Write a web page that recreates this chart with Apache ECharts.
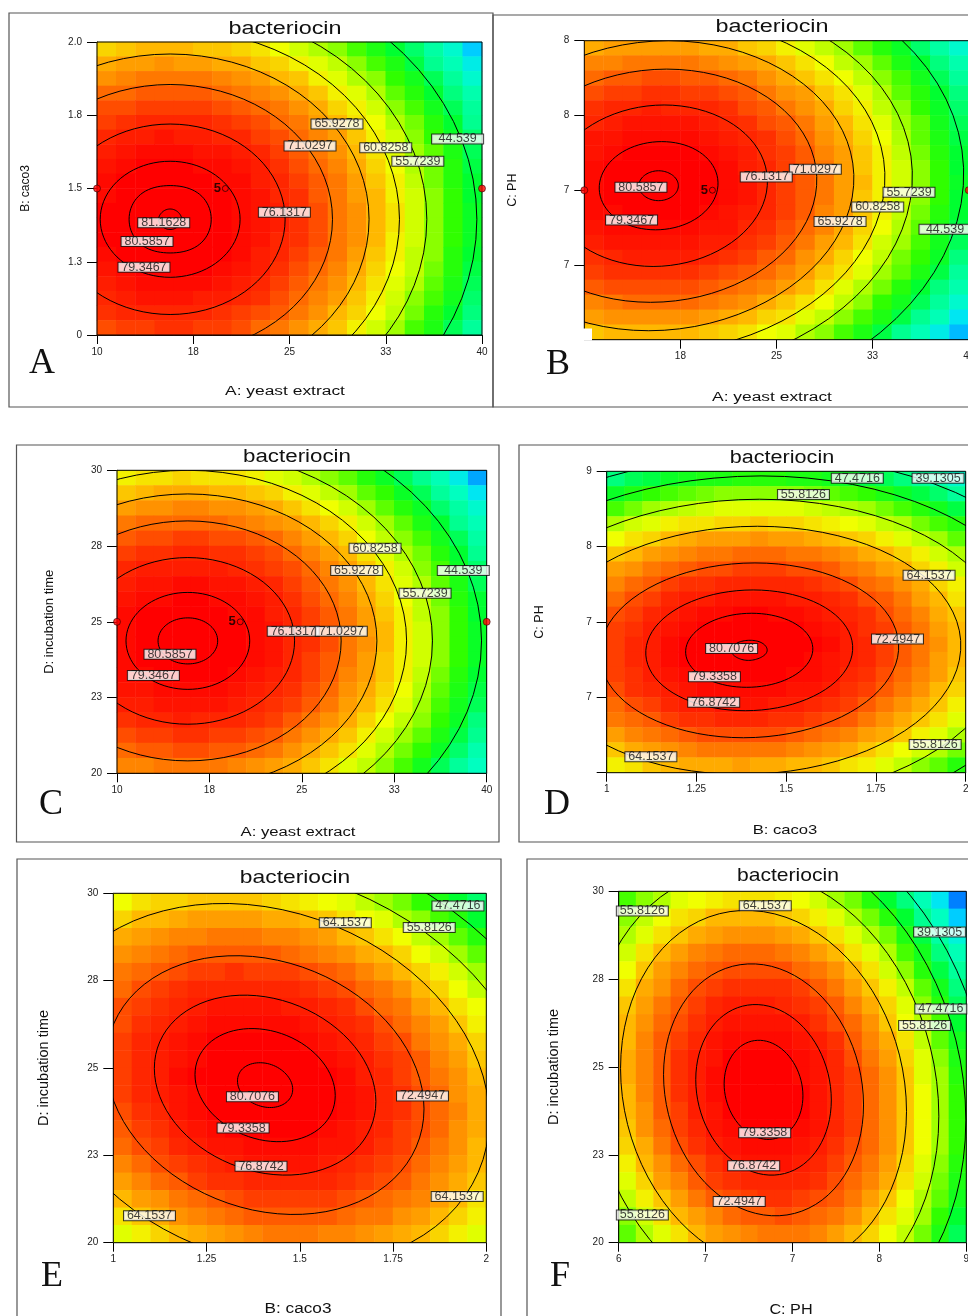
<!DOCTYPE html>
<html><head><meta charset="utf-8">
<script src="https://cdn.jsdelivr.net/npm/echarts@6/dist/echarts.min.js"></script>
<style>html,body{margin:0;padding:0;background:#fff}#c{width:968px;height:1316px}</style></head>
<body><div id="c"></div>
<script>
// value scale colours, 25..80 in steps of 5
const colourStops=['#0080ff','#00e0ff','#00ffc0','#00ff90','#00ff30','#30ff00','#a0ff00','#f0ff00','#ffb800','#ff7800','#ff3000','#ff0000'];

// ---- Panel A: yeast extract / caco3
const heatA=[
[63,64,65,65,65,64,64,63,62,60,58,56,54,51,48,45,42,38,34,29],
[66,67,67,68,67,67,66,66,64,63,61,59,57,54,51,48,44,40,36,32],
[68,69,70,70,70,70,69,68,67,65,64,61,59,56,54,50,47,43,39,34],
[71,71,72,72,72,72,71,70,69,68,66,64,61,59,56,52,49,45,41,37],
[73,73,74,74,74,74,73,72,71,70,68,66,63,61,58,54,51,47,43,39],
[74,75,76,76,76,76,75,74,73,71,70,67,65,62,60,56,53,49,45,40],
[76,77,77,78,77,77,76,76,74,73,71,69,67,64,61,58,54,50,46,42],
[77,78,79,79,79,78,78,77,76,74,72,70,68,65,62,59,55,52,48,43],
[78,79,80,80,80,79,79,78,77,75,73,71,69,66,63,60,56,53,49,44],
[79,80,80,81,80,80,79,79,77,76,74,72,70,67,64,61,57,53,49,45],
[79,80,81,81,81,81,80,79,78,76,75,72,70,67,65,61,58,54,50,45],
[80,81,81,81,81,81,80,79,78,77,75,73,70,68,65,62,58,54,50,46],
[80,81,81,81,81,81,80,79,78,77,75,73,70,68,65,62,58,54,50,46],
[80,80,81,81,81,81,80,79,78,76,75,73,70,68,65,61,58,54,50,46],
[79,80,80,81,81,80,80,79,77,76,74,72,70,67,64,61,57,54,49,45],
[78,79,80,80,80,80,79,78,77,75,73,71,69,66,63,60,57,53,49,44],
[77,78,79,79,79,79,78,77,76,74,72,70,68,65,62,59,56,52,48,43],
[76,77,78,78,78,77,77,76,75,73,71,69,67,64,61,58,54,51,47,42],
[75,76,76,76,76,76,75,74,73,72,70,68,65,63,60,57,53,49,45,41],
[73,74,74,75,75,74,74,73,71,70,68,66,64,61,58,55,51,48,43,39]];
const contoursA=[
[[16.6,1.395],[16.3,1.42],[15.7,1.43],[15.1,1.42],[14.8,1.395],[15.1,1.37],[15.7,1.36],[16.3,1.37]],
[[18.9,1.395],[18,1.48],[15.7,1.51],[13.4,1.48],[12.5,1.395],[13.4,1.31],[15.7,1.28],[18,1.31]],
[[21.15,1.395],[19.55,1.535],[15.7,1.593],[11.85,1.535],[10.25,1.395],[11.85,1.255],[15.7,1.197],[19.55,1.255]],
[[24.66,1.395],[22.03,1.625],[15.7,1.72],[9.37,1.625],[6.74,1.395],[9.37,1.165],[15.7,1.07],[22.03,1.165]],
[[28.35,1.395],[24.64,1.72],[15.7,1.855],[6.76,1.72],[3.05,1.395],[6.76,1.07],[15.7,.935],[24.64,1.07]],
[[31.2,1.395],[26.66,1.794],[15.7,1.959],[4.74,1.794],[.2,1.395],[4.74,.996],[15.7,.831],[26.66,.996]],
[[33.57,1.395],[28.33,1.855],[15.7,2.045],[3.07,1.855],[-2.17,1.395],[3.07,.935],[15.7,.745],[28.33,.935]],
[[35.7,1.395],[29.84,1.91],[15.7,2.123],[1.56,1.91],[-4.3,1.395],[1.56,.88],[15.7,.667],[29.84,.88]],
[[39.6,1.395],[32.6,2.011],[15.7,2.266],[-1.2,2.011],[-8.2,1.395],[-1.2,.779],[15.7,.524],[32.6,.779]]];
const labelsA=[["65.9278",28.7,1.72],["71.0297",26.6,1.645],["60.8258",32.5,1.639],["55.7239",35,1.593],["44.539",38.1,1.669],["76.1317",24.6,1.419],["81.1628",15.2,1.383],["80.5857",13.9,1.319],["79.3467",13.66,1.231]];
const pointsA=[[10,1.5],[40,1.5]]; const centreA=[[20,1.5]];

// ---- Panel B: yeast extract / PH
const heatB=[
[66,67,67,67,67,67,66,66,64,63,61,59,57,55,52,49,46,42,38,34],
[69,69,70,70,70,70,69,68,67,66,64,62,60,57,55,52,48,45,41,37],
[71,72,72,73,73,72,72,71,70,68,66,64,62,60,57,54,51,47,43,39],
[73,74,74,75,75,74,74,73,72,70,68,67,64,62,59,56,52,49,45,41],
[75,76,76,77,76,76,76,75,73,72,70,68,66,63,61,57,54,50,46,42],
[76,77,78,78,78,78,77,76,75,73,72,70,67,65,62,59,55,52,47,43],
[78,78,79,79,79,79,78,77,76,75,73,71,68,66,63,60,56,52,48,44],
[78,79,80,80,80,80,79,78,77,75,74,72,69,67,64,61,57,53,49,45],
[79,80,80,81,80,80,80,79,77,76,74,72,70,67,64,61,58,54,50,45],
[79,80,80,81,81,80,80,79,78,76,74,72,70,67,65,61,58,54,50,46],
[79,80,80,81,81,80,80,79,78,76,74,72,70,67,64,61,58,54,50,45],
[79,79,80,80,80,80,79,78,77,76,74,72,69,67,64,61,57,53,49,45],
[78,79,79,79,79,79,78,78,76,75,73,71,69,66,63,60,56,52,48,44],
[77,78,78,78,78,78,77,77,75,74,72,70,67,65,62,58,55,51,47,43],
[75,76,77,77,77,77,76,75,74,72,71,68,66,63,60,57,53,50,46,41],
[74,75,75,75,75,75,74,73,72,71,69,67,64,62,59,55,52,48,44,39],
[72,73,73,73,73,73,72,71,70,69,67,65,62,59,56,53,49,45,41,37],
[69,70,71,71,71,71,70,69,68,66,64,62,60,57,54,50,47,43,39,34],
[67,68,68,68,68,68,67,66,65,63,62,59,57,54,51,48,44,40,36,31],
[64,65,65,65,65,65,64,63,62,60,59,56,54,51,48,44,40,36,32,28]];
const contoursB=[
[[17.34,7.03],[16.89,7.10],[15.8,7.13],[14.71,7.10],[14.26,7.03],[14.71,6.96],[15.8,6.93],[16.89,6.96]],
[[20.43,7.03],[19.24,7.24],[16.04,7.325],[12.7,7.24],[11.17,7.03],[12.36,6.82],[15.56,6.735],[18.9,6.82]],
[[24.28,7.03],[22.11,7.41],[16.23,7.57],[10.11,7.41],[7.32,7.03],[9.49,6.65],[15.37,6.49],[21.49,6.65]],
[[28.13,7.03],[24.96,7.58],[16.43,7.81],[7.52,7.58],[3.47,7.03],[6.64,6.48],[15.17,6.25],[24.08,6.48]],
[[31.02,7.03],[27.11,7.71],[16.57,8.0],[5.59,7.71],[.58,7.03],[4.49,6.35],[15.03,6.06],[26.01,6.35]],
[[33.44,7.03],[28.9,7.82],[16.7,8.15],[3.96,7.82],[-1.84,7.03],[2.7,6.24],[14.9,5.91],[27.64,6.24]],
[[35.58,7.03],[30.49,7.92],[16.8,8.29],[2.53,7.92],[-3.98,7.03],[1.11,6.14],[14.8,5.77],[29.07,6.14]],
[[39.58,7.03],[33.47,8.1],[17.01,8.54],[-.15,8.1],[-7.98,7.03],[-1.87,5.96],[14.59,5.52],[31.75,5.96]]];
const labelsB=[["71.0297",28.03,7.14],["76.1317",24.2,7.088],["80.5857",14.42,7.02],["55.7239",35.34,6.986],["60.8258",32.9,6.888],["65.9278",29.96,6.79],["44.539",38.15,6.738],["79.3467",13.69,6.8]];
const pointsB=[[10,7],[40,7]]; const centreB=[[20,7]];

// ---- Panel C: yeast extract / incubation time
const heatC=[
[61,62,62,63,62,62,62,61,59,58,56,54,52,49,46,43,40,36,32,27],
[64,65,66,66,66,65,65,64,63,61,59,57,55,52,50,46,43,39,35,31],
[67,68,68,69,69,68,68,67,66,64,62,60,58,55,52,49,46,42,38,34],
[70,71,71,71,71,71,70,69,68,67,65,63,61,58,55,52,48,45,40,36],
[72,73,73,74,74,73,73,72,71,69,67,65,63,60,57,54,51,47,43,38],
[74,75,75,76,76,75,75,74,73,71,69,67,65,62,59,56,53,49,45,40],
[76,77,77,77,77,77,76,75,74,73,71,69,67,64,61,58,54,51,46,42],
[77,78,78,79,79,78,78,77,76,74,72,70,68,65,62,59,56,52,48,43],
[78,79,79,80,80,79,79,78,77,75,73,71,69,66,63,60,57,53,49,45],
[79,80,80,80,80,80,79,79,77,76,74,72,70,67,64,61,57,54,50,45],
[79,80,81,81,81,80,80,79,78,76,74,72,70,67,65,61,58,54,50,46],
[79,80,81,81,81,81,80,79,78,76,75,73,70,68,65,61,58,54,50,46],
[79,80,80,81,81,80,80,79,78,76,74,72,70,67,64,61,58,54,50,46],
[79,79,80,80,80,80,79,78,77,76,74,72,69,67,64,61,57,53,49,45],
[78,78,79,79,79,79,78,77,76,75,73,71,68,66,63,60,56,52,48,44],
[77,77,78,78,78,78,77,76,75,74,72,70,67,65,62,59,55,51,47,43],
[75,76,76,77,76,76,76,75,74,72,70,68,66,63,60,57,54,50,46,41],
[73,74,74,75,75,74,74,73,72,70,68,66,64,61,58,55,52,48,44,40],
[71,72,72,73,73,72,72,71,70,68,66,64,62,59,56,53,50,46,42,37],
[69,69,70,70,70,70,69,68,67,66,64,62,59,57,54,51,47,43,39,35]];
const contoursC=[
[[18.17,24.37],[17.46,24.91],[15.75,25.13],[14.04,24.91],[13.33,24.37],[14.04,23.83],[15.75,23.61],[17.46,23.83]],
[[20.77,24.37],[19.3,25.5],[15.75,25.97],[12.2,25.5],[10.73,24.37],[12.2,23.24],[15.75,22.77],[19.3,23.24]],
[[24.41,24.37],[21.87,26.31],[15.75,27.12],[9.63,26.31],[7.09,24.37],[9.63,22.43],[15.75,21.62],[21.87,22.43]],
[[28.19,24.37],[24.55,27.17],[15.75,28.33],[6.95,27.17],[3.31,24.37],[6.95,21.57],[15.75,20.41],[24.55,21.57]],
[[31.09,24.37],[26.6,27.8],[15.75,29.22],[4.9,27.8],[.41,24.37],[4.9,20.94],[15.75,19.52],[26.6,20.94]],
[[33.5,24.37],[28.3,28.35],[15.75,30],[3.2,28.35],[-2,24.37],[3.2,20.39],[15.75,18.74],[28.3,20.39]],
[[35.6,24.37],[29.78,28.82],[15.75,30.66],[1.72,28.82],[-4.1,24.37],[1.72,19.92],[15.75,18.08],[29.78,19.92]],
[[39.58,24.37],[32.6,29.72],[15.75,31.94],[-1.1,29.72],[-8.08,24.37],[-1.1,19.02],[15.75,16.8],[32.6,19.02]]];
const labelsC=[["60.8258",30.94,27.43],["65.9278",29.45,26.69],["44.539",38.1,26.69],["55.7239",35,25.94],["76.1317",24.3,24.69],["71.0297",28.2,24.69],["80.5857",14.3,23.93],["79.3467",12.95,23.23]];
const pointsC=[[10,25],[40,25]]; const centreC=[[20,25]];

// ---- Panel D: caco3 / PH
const heatD=[
[41,43,44,46,47,48,48,49,49,49,48,48,47,46,44,43,41,39,37,34],
[46,48,50,51,52,53,54,54,54,54,54,53,52,51,50,48,46,44,42,39],
[51,53,55,56,57,58,59,59,59,59,59,58,57,56,55,53,51,49,47,44],
[56,58,59,61,62,62,63,63,64,63,63,62,61,60,59,57,56,53,51,49],
[60,62,63,65,66,67,67,67,68,67,67,66,65,64,63,61,59,57,55,52],
[64,65,67,68,69,70,70,71,71,71,70,70,69,68,66,65,63,61,58,56],
[67,68,70,71,72,73,73,74,74,74,73,73,72,70,69,67,66,63,61,58],
[69,71,72,74,75,75,76,76,76,76,76,75,74,73,71,70,68,66,63,61],
[71,73,74,76,77,77,78,78,78,78,77,77,76,75,73,72,70,67,65,62],
[73,74,76,77,78,79,79,80,80,79,79,78,77,76,75,73,71,69,66,64],
[74,75,77,78,79,80,80,81,81,80,80,79,78,77,75,74,72,70,67,65],
[74,76,77,79,80,80,81,81,81,81,80,80,79,77,76,74,72,70,68,65],
[74,76,77,79,80,80,81,81,81,81,80,79,78,77,76,74,72,70,67,65],
[74,75,77,78,79,80,80,80,80,80,79,79,78,76,75,73,71,69,67,64],
[73,75,76,77,78,79,79,79,79,79,78,78,77,75,74,72,70,68,65,63],
[71,73,74,76,77,77,78,78,78,77,77,76,75,74,72,70,68,66,64,61],
[70,71,72,74,75,75,76,76,76,75,75,74,73,72,70,68,66,64,62,59],
[67,69,70,71,72,73,73,73,73,73,72,71,70,69,67,66,64,61,59,56],
[64,66,67,68,69,70,70,70,70,70,69,68,67,66,64,62,60,58,56,53],
[61,62,64,65,66,66,66,67,66,66,65,65,64,62,61,59,57,54,52,49]];
const contoursD=[
[[1.447,7.218],[1.433,7.29],[1.399,7.318],[1.363,7.29],[1.347,7.218],[1.361,7.15],[1.395,7.118],[1.431,7.15]],
[[1.574,7.218],[1.527,7.479],[1.404,7.587],[1.277,7.479],[1.22,7.218],[1.267,6.957],[1.39,6.85],[1.517,6.957]],
[[1.685,7.218],[1.609,7.643],[1.408,7.819],[1.201,7.643],[1.109,7.218],[1.185,6.793],[1.386,6.617],[1.593,6.793]],
[[1.813,7.218],[1.703,7.833],[1.413,8.088],[1.115,7.833],[.981,7.218],[1.091,6.603],[1.381,6.348],[1.679,6.603]],
[[1.986,7.218],[1.83,8.091],[1.42,8.453],[.997,8.091],[.808,7.218],[.964,6.345],[1.374,5.983],[1.797,6.345]],
[[2.117,7.218],[1.926,8.281],[1.425,8.722],[.908,8.281],[.677,7.218],[.868,6.155],[1.369,5.714],[1.886,6.155]],
[[2.227,7.218],[2.007,8.446],[1.43,8.954],[.833,8.446],[.567,7.218],[.787,5.99],[1.364,5.482],[1.961,5.99]],
[[2.325,7.218],[2.079,8.591],[1.433,9.16],[.766,8.591],[.469,7.218],[.715,5.845],[1.361,5.276],[2.027,5.845]]];
const labelsD=[["47.4716",1.698,8.93],["39.1305",1.923,8.93],["55.8126",1.548,8.77],["64.1537",1.898,7.965],["72.4947",1.81,7.33],["80.7076",1.348,7.235],["79.3358",1.3,6.956],["76.8742",1.298,6.7],["55.8126",1.915,6.28],["64.1537",1.123,6.16]];

// ---- Panel E: caco3 / incubation time
const heatE=[
[60,62,63,63,64,64,64,64,63,62,61,60,59,57,55,53,50,48,45,42],
[63,65,65,66,67,67,67,67,66,66,65,64,62,60,59,56,54,51,49,45],
[66,67,68,69,69,70,70,70,69,69,68,67,65,64,62,60,57,55,52,49],
[68,69,70,71,72,72,72,72,72,71,70,69,68,66,65,63,60,58,55,52],
[70,71,72,73,74,74,75,74,74,74,73,72,71,69,67,65,63,61,58,55],
[71,73,74,75,76,76,76,76,76,76,75,74,73,71,70,68,65,63,60,57],
[73,74,75,76,77,78,78,78,78,77,77,76,75,73,71,70,67,65,62,60],
[73,75,76,77,78,79,79,79,79,79,78,77,76,75,73,71,69,67,64,61],
[74,76,77,78,79,80,80,80,80,80,79,78,77,76,74,73,70,68,66,63],
[74,76,77,78,79,80,81,81,81,80,80,79,78,77,75,74,72,69,67,64],
[74,76,77,79,80,80,81,81,81,81,80,80,79,77,76,74,72,70,68,65],
[74,76,77,78,79,80,81,81,81,81,80,80,79,78,76,75,73,71,68,66],
[73,75,76,78,79,80,80,81,81,81,80,80,79,78,76,75,73,71,69,66],
[72,74,75,77,78,79,80,80,80,80,80,79,78,77,76,74,73,71,68,66],
[71,73,74,76,77,78,78,79,79,79,79,78,78,77,75,74,72,70,68,65],
[69,71,73,74,75,76,77,78,78,78,78,77,76,75,74,73,71,69,67,65],
[67,69,71,72,74,75,75,76,76,76,76,76,75,74,73,72,70,68,66,64],
[65,67,68,70,71,72,73,74,74,74,74,74,73,72,71,70,69,67,65,62],
[62,64,66,68,69,70,71,72,72,72,72,72,71,70,70,68,67,65,63,61],
[59,61,63,65,66,67,68,69,70,70,70,69,69,68,67,66,65,63,61,59]];
const contoursE=[
[[1.481,24.39],[1.459,24.87],[1.407,25.14],[1.354,25.04],[1.333,24.63],[1.354,24.15],[1.407,23.88],[1.459,23.98]],
[[1.595,24.21],[1.54,25.42],[1.407,26.1],[1.274,25.85],[1.219,24.81],[1.274,23.6],[1.407,22.92],[1.54,23.17]],
[[1.704,24.04],[1.617,25.96],[1.407,27.04],[1.197,26.64],[1.11,24.99],[1.197,23.06],[1.407,21.98],[1.617,22.38]],
[[1.833,23.83],[1.708,26.6],[1.407,28.15],[1.106,27.57],[.981,25.19],[1.106,22.42],[1.407,20.87],[1.708,21.46]],
[[2.008,23.55],[1.832,27.44],[1.407,29.62],[.982,28.8],[.807,25.47],[.982,21.58],[1.407,19.4],[1.832,20.22]],
[[2.142,23.34],[1.926,28.09],[1.407,30.75],[.888,29.75],[.673,25.69],[.888,20.93],[1.407,18.27],[1.926,19.27]],
[[2.254,23.15],[2.006,28.64],[1.407,31.71],[.808,30.56],[.56,25.87],[.808,20.38],[1.407,17.31],[2.006,18.46]]];
const labelsE=[["47.4716",1.924,29.64],["64.1537",1.622,29.16],["55.8126",1.847,29.02],["72.4947",1.829,24.2],["80.7076",1.373,24.18],["79.3358",1.348,23.28],["76.8742",1.396,22.19],["64.1537",1.922,21.32],["64.1537",1.097,20.77]];

// ---- Panel F: PH / incubation time
const heatF=[
[51,54,56,59,60,61,62,62,62,61,60,58,55,53,49,45,41,36,31,25],
[54,57,60,62,63,65,65,65,65,64,63,61,59,56,53,49,45,40,35,29],
[56,59,62,64,66,67,68,68,68,67,66,64,62,59,56,53,48,44,38,33],
[58,62,65,67,69,70,71,71,71,70,69,67,65,62,59,56,51,47,41,36],
[60,64,67,69,71,72,73,73,73,73,71,70,68,65,62,58,54,49,44,39],
[62,66,68,71,73,74,75,75,75,75,74,72,70,67,64,61,57,52,47,41],
[64,67,70,72,74,76,77,77,77,76,75,74,72,69,66,63,59,54,49,43],
[65,68,71,73,75,77,78,78,78,78,77,75,73,71,68,64,60,56,51,45],
[65,69,72,74,76,78,79,79,79,79,78,77,75,72,69,66,62,57,52,47],
[66,69,72,75,77,78,80,80,80,80,79,78,76,73,70,67,63,59,54,48],
[66,69,72,75,77,79,80,80,81,80,79,78,76,74,71,68,64,59,55,49],
[65,69,72,75,77,79,80,80,81,80,80,78,76,74,71,68,64,60,55,50],
[65,68,72,74,77,78,80,80,81,80,80,78,76,74,71,68,64,60,55,50],
[64,68,71,74,76,78,79,80,80,80,79,78,76,74,71,68,64,60,55,50],
[63,66,70,73,75,77,78,79,79,79,78,77,75,73,71,68,64,60,55,50],
[61,65,68,71,73,75,77,78,78,78,77,76,74,72,70,67,63,59,54,49],
[59,63,67,69,72,74,75,76,76,76,76,75,73,71,69,66,62,58,53,48],
[57,61,64,67,70,72,73,74,75,75,74,73,72,70,67,64,60,56,52,47],
[54,58,62,65,67,69,71,72,72,73,72,71,70,68,65,62,59,55,50,45],
[52,56,59,62,65,67,68,69,70,70,70,69,67,65,63,60,57,53,48,43]];
const contoursF=[
[[7.59,24.18],[7.49,25.22],[7.25,25.75],[7.01,25.46],[6.91,24.52],[7.01,23.48],[7.25,22.95],[7.49,23.24]],
[[7.835,24.06],[7.664,25.85],[7.25,26.76],[6.836,26.26],[6.665,24.64],[6.836,22.85],[7.25,21.94],[7.664,22.44]],
[[8.113,23.92],[7.86,26.57],[7.25,27.91],[6.64,27.17],[6.387,24.78],[6.64,22.13],[7.25,20.79],[7.86,21.53]],
[[8.484,23.74],[8.122,27.5],[7.25,29.42],[6.378,28.37],[6.016,24.96],[6.378,21.2],[7.25,19.28],[8.122,20.33]],
[[8.763,23.6],[8.32,28.23],[7.25,30.59],[6.18,29.29],[5.737,25.1],[6.18,20.47],[7.25,18.11],[8.32,19.41]],
[[8.996,23.49],[8.484,28.84],[7.25,31.56],[6.016,30.06],[5.504,25.21],[6.016,19.86],[7.25,17.14],[8.484,18.64]],
[[9.206,23.38],[8.633,29.38],[7.25,32.43],[5.867,30.74],[5.294,25.32],[5.867,19.32],[7.25,16.27],[8.633,17.96]]];
const labelsF=[["64.1537",7.265,29.59],["55.8126",6.204,29.44],["39.1305",8.77,28.84],["47.4716",8.78,26.65],["55.8126",8.64,26.18],["79.3358",7.26,23.13],["76.8742",7.165,22.19],["72.4947",7.04,21.17],["55.8126",6.204,20.79]];

// ---- axes: tick positions and the labels printed there
const yeastTicks=[10,17.5,25,32.5,40], yeastLabels=["10","18","25","33","40"];
const caco3Ticks=[1,1.25,1.5,1.75,2], caco3Labels=["1","1.25","1.5","1.75","2"];
const timeTicks=[20,22.5,25,27.5,30], timeLabels=["20","23","25","28","30"];
const phTicks=[6,6.75,7.5,8.25,9], phLabels=["6","7","7","8","9"];
const caco3TicksA=[1,1.25,1.5,1.75,2], caco3LabelsA=["0","1.3","1.5","1.8","2.0"];
const yeastTicksB=[17.5,25,32.5,40], yeastLabelsB=["18","25","33","40"];
const phTicksB=[6.5,7,7.5,8], phLabelsB=["7","7","8","8"];
const phTicksD=[6,6.75,7.5,8.25,9], phLabelsD=["","7","7","8","9"];

const panels=[
 {heat:heatA,cont:contoursA,lab:labelsA,pts:pointsA,ctr:centreA,letter:'A',
  x:{min:10,max:40,t:yeastTicks,l:yeastLabels,name:'A: yeast extract'},y:{min:1,max:2,t:caco3TicksA,l:caco3LabelsA,name:'B: caco3'},
  box:[97,42,385,293],frame:[9,13,484,394],ttl:[285,29,18,1.3],xn:[285,392,12,1.45],yn:[65,12,13],ltr:[42,364]},
 {heat:heatB,cont:contoursB,lab:labelsB,pts:pointsB,ctr:centreB,letter:'B',notch:[583,328.5,9,12],
  x:{min:10,max:40,t:yeastTicksB,l:yeastLabelsB,name:'A: yeast extract'},y:{min:6,max:8,t:phTicksB,l:phLabelsB,name:'C: PH'},
  box:[584.3,40.7,384.4,299],frame:[493,15,520,392],ttl:[772,27,18,1.3],xn:[772,398,12,1.45],yn:[65,12.5,13],ltr:[558,365]},
 {heat:heatC,cont:contoursC,lab:labelsC,pts:pointsC,ctr:centreC,letter:'C',
  x:{min:10,max:40,t:yeastTicks,l:yeastLabels,name:'A: yeast extract'},y:{min:20,max:30,t:timeTicks,l:timeLabels,name:'D: incubation time'},
  box:[117,470.3,369.7,303],frame:[16.5,445,482.5,397],ttl:[297,457,18,1.24],xn:[298,833,12,1.39],yn:[61,13,13],ltr:[51,805]},
 {heat:heatD,cont:contoursD,lab:labelsD,letter:'D',
  x:{min:1,max:2,t:caco3Ticks,l:caco3Labels,name:'B: caco3'},y:{min:6,max:9,t:phTicksD,l:phLabelsD,name:'C: PH'},
  box:[606.7,471.3,359,301.4],frame:[519,445,500,397],ttl:[782,458,18,1.2],xn:[785,830,13,1.28],yn:[61,12.5,13],ltr:[557,805]},
 {heat:heatE,cont:contoursE,lab:labelsE,letter:'E',
  x:{min:1,max:2,t:caco3Ticks,l:caco3Labels,name:'B: caco3'},y:{min:20,max:30,t:timeTicks,l:timeLabels,name:'D: incubation time'},
  box:[113.3,893.3,373,349.4],frame:[17,859,484,500],ttl:[295,878,19,1.2],xn:[298,1309,14,1.23],yn:[62,14.5,13],ltr:[52,1277]},
 {heat:heatF,cont:contoursF,lab:labelsF,letter:'F',
  x:{min:6,max:9,t:phTicks,l:phLabels,name:'C: PH'},y:{min:20,max:30,t:timeTicks,l:timeLabels,name:'D: incubation time'},
  box:[618.7,891.3,347.6,351.4],frame:[527,859,500,500],ttl:[788,876,19,1.11],xn:[791,1310,15,1.08],yn:[57,14.5,13],ltr:[560,1277]}
];

const FONT='"Liberation Sans"';
const idx20=Array.from({length:20},(_,i)=>i);
const opt={animation:false,backgroundColor:'#fff',grid:[],xAxis:[],yAxis:[],series:[],graphic:{elements:[]},
  visualMap:{show:false,type:'continuous',min:25,max:80,dimension:2,seriesIndex:[],inRange:{color:colourStops}}};
const gfx=opt.graphic.elements;
function txt(x,y,text,size,sx,font,extra){gfx.push(Object.assign({type:'text',x,y,scaleX:sx,z:8,silent:true,
  style:{text,fontSize:size,fontFamily:font,fill:'#111',textAlign:'center',textVerticalAlign:'middle'}},extra||{}));}
function axisCfg(a,gi,pos,tick,lm){return {type:'value',gridIndex:gi,position:pos,min:a.min,max:a.max,scale:true,
  splitLine:{show:false},axisLine:{show:true,onZero:false,lineStyle:{color:'#000',width:1}},
  axisTick:{show:true,length:tick,lineStyle:{color:'#000',width:1},customValues:a.t},
  axisLabel:{show:true,margin:lm,fontSize:10,color:'#222',fontFamily:FONT,customValues:a.t,hideOverlap:false,
    formatter:v=>{const i=a.t.findIndex(t=>Math.abs(t-v)<1e-6);return i<0?'':a.l[i];}}};}
// renders one closed contour ring through the axes' own coordinate mapping, as a smooth closed curve
function ringRenderer(params,api){
  if(params.dataIndex!==0) return null;
  const n=params.dataInsideLength||0, ring=[];
  const count=api.getWidth?8:8;
  const src=params.context.ring;
  src.forEach(d=>ring.push(api.coord(d)));
  const m=ring.length,pts=[],h=.1875,steps=10;
  for(let i=0;i<m;i++){
    const p0=ring[i],p1=ring[(i+1)%m],pp=ring[(i-1+m)%m],pn=ring[(i+2)%m];
    const c1=[p0[0]+(p1[0]-pp[0])*h,p0[1]+(p1[1]-pp[1])*h],c2=[p1[0]-(pn[0]-p0[0])*h,p1[1]-(pn[1]-p0[1])*h];
    for(let s=0;s<steps;s++){const t=s/steps,u=1-t;
      pts.push([u*u*u*p0[0]+3*u*u*t*c1[0]+3*u*t*t*c2[0]+t*t*t*p1[0],u*u*u*p0[1]+3*u*u*t*c1[1]+3*u*t*t*c2[1]+t*t*t*p1[1]]);}
  }
  pts.push(pts[0].slice());
  return {type:'polyline',shape:{points:pts},style:{stroke:'#000',lineWidth:1,fill:null},silent:true};
}
panels.forEach((p,g)=>{
  const [l,t,w,h]=p.box;
  opt.grid.push({left:l,top:t,width:w,height:h,show:false,containLabel:false,outerBoundsMode:'none'});
  const xv=axisCfg(p.x,g,'bottom',9,12), yv=axisCfg(p.y,g,'left',10,15);
  Object.assign(yv,{name:p.y.name,nameLocation:'middle',nameRotate:90,nameGap:p.yn[0],
    nameTextStyle:{fontSize:p.yn[1],color:'#111',fontFamily:FONT}});
  opt.xAxis.push(xv,{type:'category',gridIndex:g,show:false,data:idx20,boundaryGap:true});
  opt.yAxis.push(yv,{type:'category',gridIndex:g,show:false,data:idx20,boundaryGap:true});
  const xa=2*g,ya=2*g;
  const cells=[];p.heat.forEach((row,r)=>row.forEach((v,c)=>cells.push([c,19-r,v])));
  opt.visualMap.seriesIndex.push(opt.series.length);
  opt.series.push({type:'heatmap',xAxisIndex:xa+1,yAxisIndex:ya+1,data:cells,silent:true,z:2,progressive:0,
    itemStyle:{borderWidth:0},emphasis:{disabled:true}});
  p.cont.forEach(c=>opt.series.push({type:'custom',xAxisIndex:xa,yAxisIndex:ya,data:c,clip:true,silent:true,z:3,
    renderItem:(params,api)=>{params.context.ring=c;return ringRenderer(params,api);}}));
  if(p.pts){
    opt.series.push({type:'scatter',xAxisIndex:xa,yAxisIndex:ya,data:p.pts,symbolSize:7,silent:true,z:6,clip:false,
      itemStyle:{color:'#f00',borderColor:'#200',borderWidth:.7}});
    opt.series.push({type:'scatter',xAxisIndex:xa,yAxisIndex:ya,data:p.ctr,symbolSize:6,silent:true,z:6,clip:false,
      itemStyle:{color:'#f00',borderColor:'#000',borderWidth:.8},
      label:{show:true,position:'left',distance:1,formatter:'5',fontSize:13,fontWeight:'bold',color:'#000',fontFamily:FONT}});
  }
  opt.series.push({type:'scatter',xAxisIndex:xa,yAxisIndex:ya,data:p.lab.map(d=>({value:[d[1],d[2]],name:d[0]})),
    symbolSize:1,silent:true,z:7,clip:false,itemStyle:{color:'transparent'},
    label:{show:true,position:'inside',formatter:'{b}',fontSize:12.5,lineHeight:9,color:'#111',fontFamily:FONT,
      width:49,align:'center',backgroundColor:'#fff',borderColor:'#111',borderWidth:1,padding:[0,1]}});
  // frames, plot border, titles
  gfx.push({type:'rect',shape:{x:p.frame[0],y:p.frame[1],width:p.frame[2],height:p.frame[3]},z:1,silent:true,
    style:{fill:'none',stroke:'#555',lineWidth:1.2}});
  gfx.push({type:'rect',shape:{x:l,y:t,width:w,height:h},z:4,silent:true,style:{fill:'none',stroke:'#000',lineWidth:1}});
  if(p.notch) gfx.push({type:'rect',shape:{x:p.notch[0],y:p.notch[1],width:p.notch[2],height:p.notch[3]},z:5,silent:true,style:{fill:'#fff'}});
  txt(p.ttl[0],p.ttl[1],'bacteriocin',p.ttl[2],p.ttl[3],FONT);
  txt(p.xn[0],p.xn[1],p.x.name,p.xn[2],p.xn[3],FONT);
  txt(p.ltr[0],p.ltr[1],p.letter,36,1,'"Liberation Serif"');
});
echarts.init(document.getElementById('c'),null,{renderer:'canvas'}).setOption(opt);
</script></body></html>
